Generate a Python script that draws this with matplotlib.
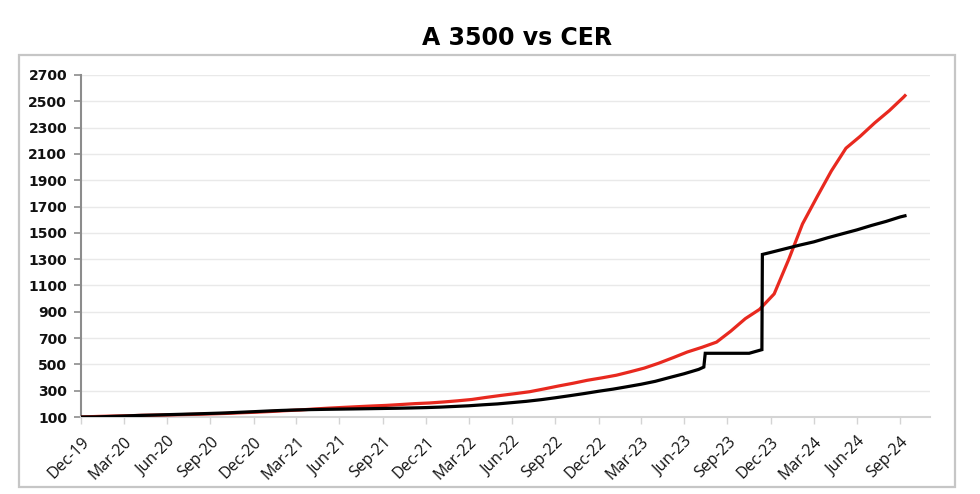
import matplotlib
matplotlib.use("Agg")
import matplotlib.pyplot as plt
from matplotlib.patches import Rectangle
import pandas as pd

# ---- data ----
a3500_dates = ["2019-12-31", "2020-01-31", "2020-02-29", "2020-03-31", "2020-04-30", "2020-05-31",
               "2020-06-30", "2020-07-31", "2020-08-31", "2020-09-30", "2020-10-31", "2020-11-30",
               "2020-12-31", "2021-01-31", "2021-02-28", "2021-03-31", "2021-04-30", "2021-05-31",
               "2021-06-30", "2021-07-31", "2021-08-31", "2021-09-30", "2021-10-31", "2021-11-30",
               "2021-12-31", "2022-01-31", "2022-02-28", "2022-03-31", "2022-04-30", "2022-05-31",
               "2022-06-30", "2022-07-31", "2022-08-31", "2022-09-30", "2022-10-31", "2022-11-30",
               "2022-12-31", "2023-01-31", "2023-02-28", "2023-03-31", "2023-04-30", "2023-05-31",
               "2023-06-30", "2023-07-31", "2023-08-11", "2023-08-14", "2023-11-15", "2023-12-12",
               "2023-12-13", "2023-12-29", "2024-01-31", "2024-02-29", "2024-03-31", "2024-04-30",
               "2024-05-31", "2024-06-30", "2024-07-31", "2024-08-31", "2024-09-30", "2024-10-10"]
a3500_values = [100.0, 100.7, 103.9, 107.6, 111.6, 114.4,
                117.6, 120.7, 123.9, 127.2, 130.8, 135.7,
                140.5, 145.8, 150.0, 153.6, 156.3, 158.2,
                159.8, 161.4, 163.2, 164.9, 166.5, 168.8,
                171.6, 175.4, 180.1, 185.3, 192.7, 199.5,
                209.1, 219.1, 231.6, 246.0, 261.9, 277.9,
                295.7, 312.0, 329.3, 348.9, 371.1, 400.7,
                428.6, 461.8, 479.7, 584.4, 584.4, 611.9,
                1335.7, 1349.8, 1379.7, 1405.8, 1431.5, 1463.4,
                1493.5, 1522.3, 1556.1, 1586.9, 1621.0, 1629.5]

cer_dates = ["2019-12-31", "2020-01-07", "2020-02-07", "2020-03-07", "2020-04-07", "2020-05-07",
             "2020-06-07", "2020-07-07", "2020-08-07", "2020-09-07", "2020-10-07", "2020-11-07",
             "2020-12-07", "2021-01-07", "2021-02-07", "2021-03-07", "2021-04-07", "2021-05-07",
             "2021-06-07", "2021-07-07", "2021-08-07", "2021-09-07", "2021-10-07", "2021-11-07",
             "2021-12-07", "2022-01-07", "2022-02-07", "2022-03-07", "2022-04-07", "2022-05-07",
             "2022-06-07", "2022-07-07", "2022-08-07", "2022-09-07", "2022-10-07", "2022-11-07",
             "2022-12-07", "2023-01-07", "2023-02-07", "2023-03-07", "2023-04-07", "2023-05-07",
             "2023-06-07", "2023-07-07", "2023-08-07", "2023-09-07", "2023-10-07", "2023-11-07",
             "2023-12-07", "2024-01-07", "2024-02-07", "2024-03-07", "2024-04-07", "2024-05-07",
             "2024-06-07", "2024-07-07", "2024-08-07", "2024-09-07", "2024-10-07", "2024-10-10"]
cer_values = [100.0, 100.8, 104.6, 107.0, 109.1, 112.7,
              114.4, 116.1, 118.7, 120.9, 124.2, 127.7,
              132.5, 136.8, 142.3, 148.0, 153.3, 160.6,
              167.2, 172.7, 178.3, 183.6, 188.2, 194.8,
              201.6, 206.6, 214.5, 222.9, 233.4, 249.0,
              263.9, 277.4, 292.1, 313.7, 335.6, 356.5,
              378.9, 397.5, 417.8, 442.8, 472.0, 508.4,
              551.1, 594.1, 629.7, 669.4, 752.4, 848.0,
              918.3, 1035.9, 1300.0, 1567.8, 1774.8, 1970.0,
              2143.4, 2233.5, 2336.2, 2429.6, 2531.6, 2543.0]

tick_dates = ["2019-12-31", "2020-03-31", "2020-06-30", "2020-09-30", "2020-12-31",
              "2021-03-31", "2021-06-30", "2021-09-30", "2021-12-31", "2022-03-31",
              "2022-06-30", "2022-09-30", "2022-12-31", "2023-03-31", "2023-06-30",
              "2023-09-30", "2023-12-31", "2024-03-31", "2024-06-30", "2024-09-30"]
tick_labels = ["Dec-19", "Mar-20", "Jun-20", "Sep-20", "Dec-20", "Mar-21", "Jun-21",
               "Sep-21", "Dec-21", "Mar-22", "Jun-22", "Sep-22", "Dec-22", "Mar-23",
               "Jun-23", "Sep-23", "Dec-23", "Mar-24", "Jun-24", "Sep-24"]
y_ticks = list(range(100, 2701, 200))
title = "A 3500 vs CER"

# ---- figure ----
fig = plt.figure(figsize=(9.8, 4.94), dpi=100)
W, H = 980, 494

# outer frame
fig.patches.append(Rectangle((19 / W, 1 - 487 / H), (955 - 19) / W, (487 - 55) / H,
                             transform=fig.transFigure, fill=False,
                             edgecolor="#c6c6c6", linewidth=1.6, zorder=0))

ax = fig.add_axes([81 / W, 1 - 417 / H, (930 - 81) / W, (417 - 75) / H])

xa = pd.to_datetime(a3500_dates)
xc = pd.to_datetime(cer_dates)
ax.plot(xc, cer_values, color="#E8291F", linewidth=2.3, solid_joinstyle="round", zorder=3)
ax.plot(xa, a3500_values, color="#000000", linewidth=2.3, solid_joinstyle="miter", zorder=4)

ax.set_ylim(100, 2700)
ax.set_xlim(pd.Timestamp("2019-12-31"), pd.Timestamp("2024-12-02"))
ax.set_yticks(y_ticks)
ax.set_yticklabels([str(v) for v in y_ticks], fontsize=10, fontweight="bold",
                   family="DejaVu Sans", color="#111111")
ax.set_xticks(pd.to_datetime(tick_dates))
ax.set_xticklabels(tick_labels, rotation=45, ha="right", va="top",
                   rotation_mode="anchor", fontsize=11.5, family="Open Sans", color="#111111")

ax.grid(axis="y", color="#e9e9e9", linewidth=1.0, zorder=0)
ax.set_axisbelow(True)
for s in ("top", "right"):
    ax.spines[s].set_visible(False)
ax.spines["left"].set_color("#8c8c8c")
ax.spines["left"].set_linewidth(1.5)
ax.spines["bottom"].set_color("#d4d4d4")
ax.spines["bottom"].set_linewidth(1.5)
ax.tick_params(axis="y", direction="out", length=5, width=1.2, color="#8c8c8c", pad=5)
ax.tick_params(axis="x", direction="out", length=5, width=1.0, color="#d4d4d4", pad=7)

fig.text(517 / W, 1 - 38 / H, title, ha="center", va="center", fontsize=17,
         fontweight="bold", family="DejaVu Sans")

fig.savefig("out.png", dpi=100, facecolor="white")
